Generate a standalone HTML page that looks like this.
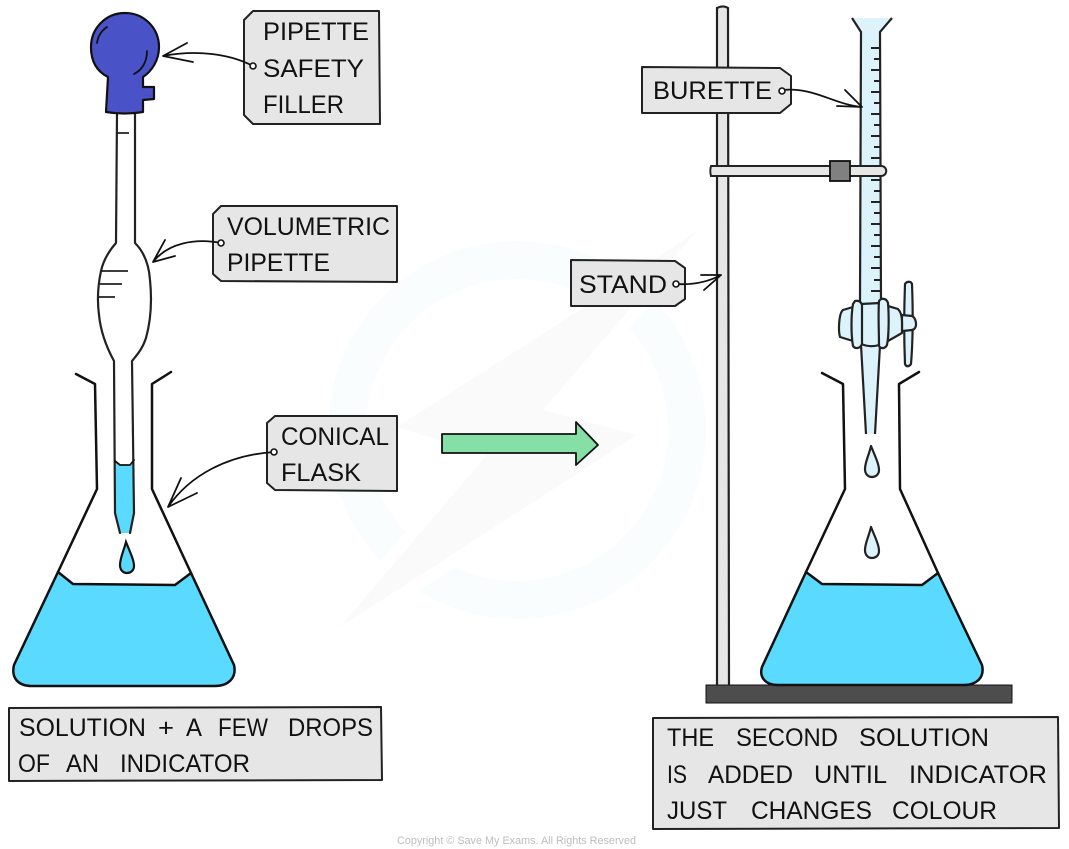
<!DOCTYPE html>
<html><head><meta charset="utf-8"><title>Titration</title>
<style>
html,body{margin:0;padding:0;background:#fff}
svg{display:block}
text{font-family:"Liberation Sans",sans-serif;font-size:25px;fill:#111}
.l{fill:none;stroke:#111;stroke-width:2.5;stroke-linejoin:round;stroke-linecap:round}
.t{fill:#e6e6e6;stroke:#222;stroke-width:2;stroke-linejoin:round}
.a{fill:none;stroke:#111;stroke-width:1.8;stroke-linecap:round;stroke-linejoin:round}
.h{fill:#fff;stroke:#111;stroke-width:1.6}
.b{fill:#dcf3fc;stroke:#222;stroke-width:2.2;stroke-linejoin:round}
.k{fill:none;stroke:#222;stroke-width:1.8}
</style></head><body>
<svg width="1069" height="849" viewBox="0 0 1069 849" xmlns="http://www.w3.org/2000/svg">
<rect width="1069" height="849" fill="#fff"/>
<!-- watermark -->
<circle cx="517" cy="430" r="170" fill="none" stroke="#fafdfe" stroke-width="38"/>
<polygon points="698,230 580,310 397,427 487,455 340,627 637,435 543,410" fill="#fafafa" stroke="#fff" stroke-width="24" stroke-linejoin="miter"/>
<polygon points="698,230 580,310 397,427 487,455 340,627 637,435 543,410" fill="#fafafa"/>

<!-- left flask -->
<path d="M58,572 L73,584 L175,585 L191,573 L234,665 C237,678 228,686 215,686 L32,686 C18,686 11,678 14,665 Z" fill="#5adaff" stroke="none"/>
<path class="l" d="M76,374 L95,384 L97,489 L58,572 L14,665 C11,678 18,686 32,686 L215,686 C228,686 237,678 234,665 L191,573 L152,489 L152,384 L171,372"/>
<path class="l" d="M58,572 L73,584 L175,585 L191,573"/>

<!-- pipette -->
<path d="M115,461 L120,465 L130,465 L134,460 L134,513 L130,533 L121,533 L115,513 Z" fill="#5adaff"/>
<path class="l" d="M117,113 L116,243 C108,252 103,262 101,271 C98,285 97,300 99,315 C101,335 108,350 114,361 L115,513 L120,533 M135,113 L135,243 C144,252 149,265 150,280 C152,300 151,320 146,338 C142,350 136,356 132,361 L134,513 L130,533" style="stroke:#222;stroke-width:2.2"/>
<path class="l" d="M115,461 L120,465 L130,465 L134,460" style="stroke-width:1.8"/>
<path class="k" d="M117,133 H129 M102,271 H128 M100,284 H122 M98,297 H115"/>
<path d="M126,542 C130,552 134,560 134,566 C134,571 130,573 127,573 C123,573 120,570 120,565 C120,558 124,550 126,542 Z" fill="#5adaff" stroke="#111" stroke-width="2.2"/>

<!-- filler bulb -->
<path d="M108,77 C96,71 91,60 91,47 C91,28 106,13 125,13 C144,13 159,28 159,47 C159,60 152,71 143,77 L143,87 L154,87 L154,99 L143,100 L143,112 C130,114 118,114 106,112 Z" fill="#4a52c8" stroke="#111" stroke-width="2.2" stroke-linejoin="round"/>
<path d="M97,43 C98,36 101,31 107,27 M147,51 C147,62 142,70 134,74" fill="none" stroke="#111" stroke-width="1.8" stroke-linecap="round"/>

<!-- tag: pipette safety filler -->
<polygon class="t" points="253,11 379,11 380,124 253,124 244,115 244,20"/>
<text x="263" y="40" textLength="106" lengthAdjust="spacingAndGlyphs">PIPETTE</text>
<text x="263" y="77" textLength="101" lengthAdjust="spacingAndGlyphs">SAFETY</text>
<text x="263" y="113" textLength="81" lengthAdjust="spacingAndGlyphs">FILLER</text>
<path class="a" d="M253,66 C228,53 195,50 163,56 M187,43 L163,56 L193,62"/>
<circle class="h" cx="253" cy="66" r="3"/>

<!-- tag: volumetric pipette -->
<polygon class="t" points="221,206 397,206 397,282 221,281 213,274 213,214"/>
<text x="227" y="235" textLength="163" lengthAdjust="spacingAndGlyphs">VOLUMETRIC</text>
<text x="227" y="271" textLength="103" lengthAdjust="spacingAndGlyphs">PIPETTE</text>
<path class="a" d="M221,243 C195,238 168,243 153,262 M165,240 L153,262 L175,256"/>
<circle class="h" cx="221" cy="243" r="3"/>

<!-- tag: conical flask -->
<polygon class="t" points="275,416 397,416 397,491 275,490 267,483 267,423"/>
<text x="281" y="445" textLength="108" lengthAdjust="spacingAndGlyphs">CONICAL</text>
<text x="281" y="481" textLength="80" lengthAdjust="spacingAndGlyphs">FLASK</text>
<path class="a" d="M274,452 C228,455 190,475 168,507 M181,478 L168,507 L197,493"/>
<circle class="h" cx="274" cy="452" r="3"/>

<!-- green arrow -->
<polygon points="442,434 576,434 576,422 598,445 576,465 576,453 442,453" fill="#86dfa5" stroke="#111" stroke-width="1.8" stroke-linejoin="round"/>

<!-- stand -->
<path d="M717,8 C721,6 725,6 728,8 L729,686 L717,686 Z" fill="#e6e6e6" stroke="#222" stroke-width="2.2"/>
<rect x="706" y="685" width="306" height="18" fill="#4d4d4d" stroke="#111" stroke-width="1"/>

<!-- burette -->
<path d="M852,18 L892,18 L880,32 L881,303 L859,303 L861,32 Z" fill="#dcf3fc"/>
<path d="M852,18 L861,32 L860,303 M892,18 L880,32 L881,303" fill="none" stroke="#222" stroke-width="2.2" stroke-linejoin="round"/>
<path d="M871,48H880 M874,59H880 M871,70H880 M874,81H880 M871,92H880 M874,103H880 M871,114H880 M874,125H880 M871,136H880 M874,147H880 M871,158H880 M871,180H880 M874,191H880 M871,202H880 M874,213H880 M871,224H880 M874,235H880 M871,246H880 M874,257H880 M871,268H880 M874,280H880 M871,291H880" stroke="#222" stroke-width="2" fill="none"/>

<!-- clamp -->
<path d="M711,166 L881,166 C888,166 888,176 881,176 L711,176 C710,172 710,170 711,166 Z" fill="#e6e6e6" stroke="#222" stroke-width="2"/>
<rect x="830" y="161" width="20" height="20" fill="#808080" stroke="#111" stroke-width="1.8"/>

<!-- tap -->
<path d="M861,345 L880,345 L875,434 L866,434 Z" fill="#dcf3fc"/>
<path d="M861,345 L866,434 M880,345 L875,434" fill="none" stroke="#222" stroke-width="2.2"/>
<path class="b" d="M905,284 C907,281 911,281 912,284 C913,310 913,340 911,364 C909,367 906,367 905,364 C904,340 904,310 905,284 Z"/>
<path class="b" d="M902,315 L912,316 C916,318 917,325 915,328 C914,330 912,330 902,331 Z"/>
<path class="b" d="M853,307 L843,310 C839,313 838,330 840,337 L853,341 Z"/>
<path class="b" d="M888,306 L898,309 C901,312 902,316 902,322 L902,333 L888,341 Z"/>
<path class="b" d="M861,304 L880,303 L879,345 C873,347 866,346 861,344 Z"/>
<path class="b" d="M855,301 C859,300 861,302 862,305 L862,344 C860,349 855,349 853,346 C851,335 851,315 853,304 Z"/>
<path class="b" d="M881,299 C885,298 887,300 888,303 C889,315 889,335 887,345 C885,349 881,349 879,346 C879,330 878,315 879,301 Z"/>

<!-- drops -->
<path class="b" d="M871,446 C875,456 879,464 879,470 C879,475 875,477 872,477 C868,477 865,474 865,469 C865,462 869,455 871,446 Z"/>
<path class="b" d="M871,527 C875,537 879,545 879,551 C879,556 875,558 872,558 C868,558 865,555 865,550 C865,543 869,536 871,527 Z"/>

<!-- right flask -->
<path d="M806,572 L822,584 L922,585 L938,573 L982,665 C985,678 976,685 964,685 L778,685 C765,685 759,677 762,667 Z" fill="#5adaff"/>
<path class="l" d="M822,373 L843,384 L845,489 L806,572 L762,667 C759,677 765,685 778,685 L964,685 C976,685 985,678 982,665 L938,573 L900,489 L899,384 L919,372"/>
<path class="l" d="M806,572 L822,584 L922,585 L938,573"/>

<!-- tag: burette -->
<polygon class="t" points="642,67 780,68 791,76 791,104 780,113 642,113"/>
<text x="653" y="99" textLength="119" lengthAdjust="spacingAndGlyphs">BURETTE</text>
<path class="a" d="M782,90 C815,87 832,104 862,107 M845,90 L862,107 L837,106"/>
<circle class="h" cx="782" cy="91" r="3"/>

<!-- tag: stand -->
<polygon class="t" points="571,260 675,261 685,268 685,299 675,306 571,306"/>
<text x="579" y="293" textLength="88" lengthAdjust="spacingAndGlyphs">STAND</text>
<path class="a" d="M676,284 C692,285 708,282 721,275 M701,275 L721,275 L704,290"/>
<circle class="h" cx="676" cy="284" r="3"/>

<!-- caption left -->
<polygon class="t" points="9,708 381,707 382,780 9,781"/>
<text x="19" y="736" textLength="127" lengthAdjust="spacingAndGlyphs">SOLUTION</text>
<text x="158" y="736" textLength="16" lengthAdjust="spacingAndGlyphs">+</text>
<text x="186" y="736" textLength="16" lengthAdjust="spacingAndGlyphs">A</text>
<text x="218" y="736" textLength="50" lengthAdjust="spacingAndGlyphs">FEW</text>
<text x="288" y="736" textLength="85" lengthAdjust="spacingAndGlyphs">DROPS</text>
<text x="18" y="772" textLength="32" lengthAdjust="spacingAndGlyphs">OF</text>
<text x="66" y="772" textLength="33" lengthAdjust="spacingAndGlyphs">AN</text>
<text x="120" y="772" textLength="130" lengthAdjust="spacingAndGlyphs">INDICATOR</text>

<!-- caption right -->
<polygon class="t" points="653,718 1058,717 1059,828 653,829"/>
<text x="667" y="746" textLength="47" lengthAdjust="spacingAndGlyphs">THE</text>
<text x="736" y="746" textLength="102" lengthAdjust="spacingAndGlyphs">SECOND</text>
<text x="859" y="746" textLength="130" lengthAdjust="spacingAndGlyphs">SOLUTION</text>
<text x="667" y="783" textLength="20" lengthAdjust="spacingAndGlyphs">IS</text>
<text x="708" y="783" textLength="85" lengthAdjust="spacingAndGlyphs">ADDED</text>
<text x="814" y="783" textLength="73" lengthAdjust="spacingAndGlyphs">UNTIL</text>
<text x="909" y="783" textLength="138" lengthAdjust="spacingAndGlyphs">INDICATOR</text>
<text x="667" y="819" textLength="60" lengthAdjust="spacingAndGlyphs">JUST</text>
<text x="751" y="819" textLength="121" lengthAdjust="spacingAndGlyphs">CHANGES</text>
<text x="892" y="819" textLength="105" lengthAdjust="spacingAndGlyphs">COLOUR</text>

<text x="397" y="844" textLength="239" lengthAdjust="spacingAndGlyphs" style="font-size:11px;fill:#bdbdbd">Copyright © Save My Exams. All Rights Reserved</text>
</svg>
</body></html>
